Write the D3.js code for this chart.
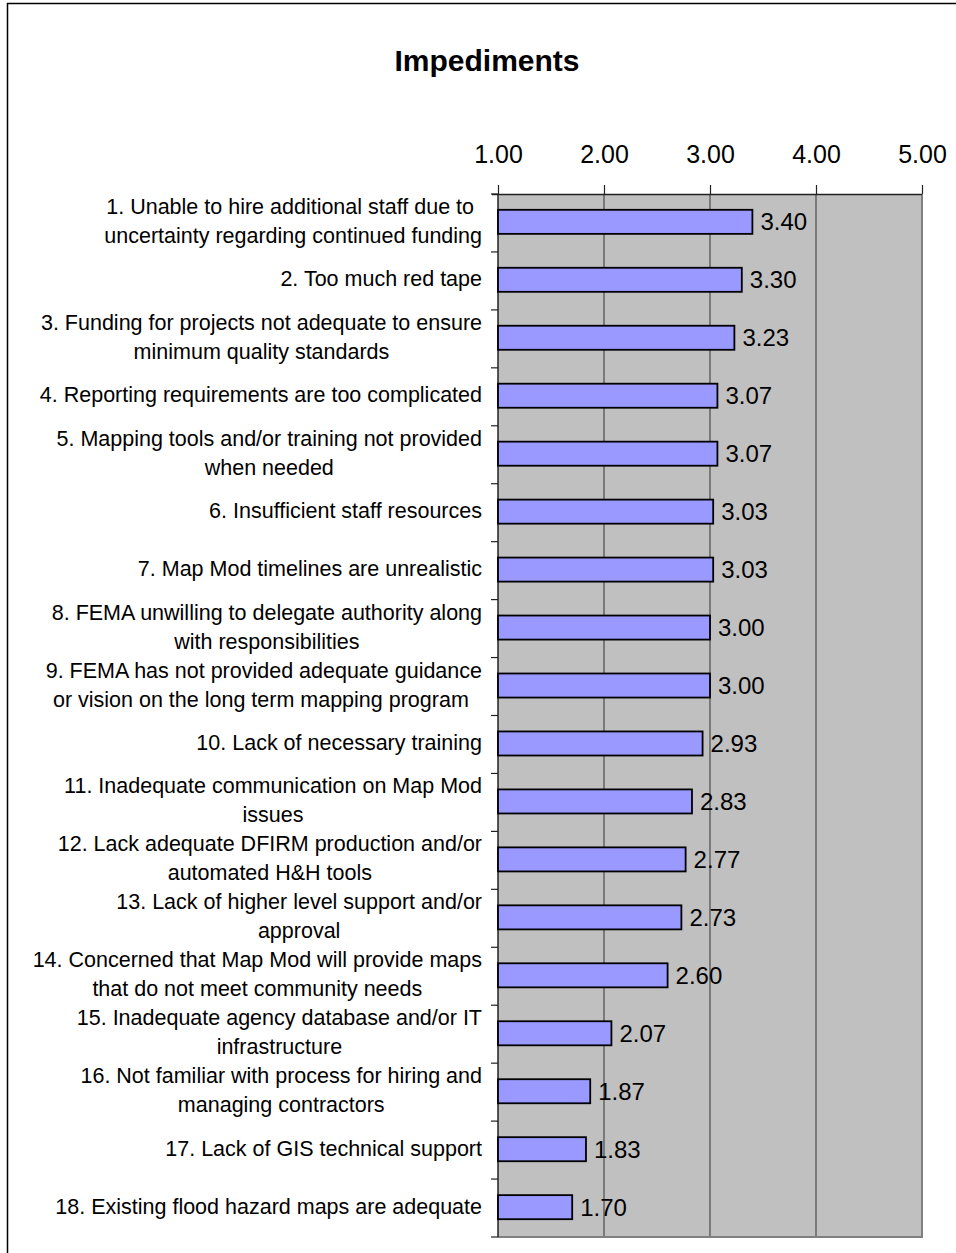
<!DOCTYPE html>
<html>
<head>
<meta charset="utf-8">
<script src="https://cdn.jsdelivr.net/npm/d3@7"></script>
<style>
  html, body { margin: 0; padding: 0; background: #fff; }
  svg { display: block; }
  text { font-family: "Liberation Sans", Arial, sans-serif; fill: #000; }
</style>
</head>
<body>
<svg id="chart" width="956" height="1253"></svg>
<script>
// Survey items (label lines) and their mean ratings
const categories = [
  ["1. Unable to hire additional staff due to ", "uncertainty regarding continued funding"],
  ["2. Too much red tape"],
  ["3. Funding for projects not adequate to ensure", "minimum quality standards"],
  ["4. Reporting requirements are too complicated"],
  ["5. Mapping tools and/or training not provided", "when needed"],
  ["6. Insufficient staff resources"],
  ["7. Map Mod timelines are unrealistic"],
  ["8. FEMA unwilling to delegate authority along", "with responsibilities"],
  ["9. FEMA has not provided adequate guidance", "or vision on the long term mapping program "],
  ["10. Lack of necessary training"],
  ["11. Inadequate communication on Map Mod", "issues"],
  ["12. Lack adequate DFIRM production and/or", "automated H&H tools"],
  ["13. Lack of higher level support and/or", "approval"],
  ["14. Concerned that Map Mod will provide maps", "that do not meet community needs"],
  ["15. Inadequate agency database and/or IT", "infrastructure"],
  ["16. Not familiar with process for hiring and", "managing contractors"],
  ["17. Lack of GIS technical support"],
  ["18. Existing flood hazard maps are adequate"]
];
const values = [3.40, 3.30, 3.23, 3.07, 3.07, 3.03, 3.03, 3.00, 3.00, 2.93, 2.83, 2.77, 2.73, 2.60, 2.07, 1.87, 1.83, 1.70];
const tickValues = [1, 2, 3, 4, 5];
const title = "Impediments";

const svg = d3.select("#chart");
const plot = { left: 498, right: 922, top: 194, bottom: 1237 };

// Outer chart frame (runs past the page edges on the right and bottom)
svg.append("rect")
  .attr("x", 7.5).attr("y", 3.5)
  .attr("width", 1000).attr("height", 1300)
  .attr("fill", "#fff").attr("stroke", "#000").attr("stroke-width", 1.5);

// Title
svg.append("text")
  .attr("x", 487).attr("y", 71)
  .attr("text-anchor", "middle")
  .attr("font-size", 30).attr("font-weight", "bold")
  .text(title);

const x = d3.scaleLinear().domain([1, 5]).range([plot.left, plot.right]);
const idx = categories.map((d, i) => i);
const y = d3.scaleBand().domain(idx).range([plot.top, plot.bottom]).paddingInner(0.585).paddingOuter(0.29);
const yRow = d3.scaleBand().domain(idx).range([plot.top, plot.bottom]);

// Plot area background
svg.append("rect")
  .attr("x", plot.left).attr("y", plot.top)
  .attr("width", plot.right - plot.left).attr("height", plot.bottom - plot.top)
  .attr("fill", "#C0C0C0");

// Vertical gridlines
svg.append("g").selectAll("line")
  .data(tickValues.slice(1, -1))
  .join("line")
  .attr("x1", d => x(d)).attr("x2", d => x(d))
  .attr("y1", plot.top).attr("y2", plot.bottom)
  .attr("stroke", "#4a4a4a").attr("stroke-width", 1.2);

// Right and bottom borders of the plot area
svg.append("path")
  .attr("d", `M${plot.right},${plot.top}V${plot.bottom}H${plot.left}`)
  .attr("fill", "none").attr("stroke", "#808080").attr("stroke-width", 2);

// Top value axis
const xAxis = d3.axisTop(x).tickValues(tickValues).tickFormat(d3.format(".2f")).tickSize(9).tickPadding(22);
const gx = svg.append("g").attr("transform", `translate(0,${plot.top})`).call(xAxis);
gx.select(".domain").attr("d", `M${plot.left - 6},0.5H${plot.right}`).attr("stroke", "#222").attr("stroke-width", 1.5);
gx.selectAll(".tick line").attr("stroke", "#222").attr("stroke-width", 1.2);
gx.selectAll(".tick text")
  .attr("font-family", "'Liberation Sans', Arial, sans-serif")
  .attr("font-size", 25).attr("fill", "#000");

// Left category axis line and row separators
svg.append("line")
  .attr("x1", plot.left).attr("x2", plot.left)
  .attr("y1", plot.top).attr("y2", plot.bottom)
  .attr("stroke", "#222").attr("stroke-width", 1.5);
svg.append("g").selectAll("line")
  .data(idx.concat([categories.length]))
  .join("line")
  .attr("x1", plot.left - 7).attr("x2", plot.left)
  .attr("y1", d => d < categories.length ? yRow(d) : plot.bottom)
  .attr("y2", d => d < categories.length ? yRow(d) : plot.bottom)
  .attr("stroke", "#222").attr("stroke-width", 1.2);

// Bars
svg.append("g").selectAll("rect")
  .data(values)
  .join("rect")
  .attr("x", x(1))
  .attr("y", (d, i) => y(i) - 1)
  .attr("width", d => x(d) - x(1))
  .attr("height", y.bandwidth())
  .attr("fill", "#9999FF").attr("stroke", "#000").attr("stroke-width", 1.8);

// Value labels
svg.append("g").selectAll("text")
  .data(values)
  .join("text")
  .attr("x", d => x(d) + 8)
  .attr("y", (d, i) => y(i) + y.bandwidth() / 2 + 7.5)
  .attr("font-size", 24)
  .text(d => d3.format(".2f")(d));

// Category labels: lines centred within a right-aligned block
const lineH = 29;
const labelRight = 482;
const gl = svg.append("g");
categories.forEach((lines, i) => {
  const cy = yRow(i) + yRow.bandwidth() / 2 - 2;
  const texts = lines.map((ln, j) => gl.append("text")
    .attr("font-size", 21.5)
    .style("white-space", "pre")
    .attr("text-anchor", "middle")
    .attr("y", cy + (j - (lines.length - 1) / 2) * lineH + 7.5)
    .text(ln));
  const maxW = d3.max(texts, t => t.node().getComputedTextLength());
  texts.forEach(t => t.attr("x", labelRight - maxW / 2));
});
</script>
</body>
</html>
